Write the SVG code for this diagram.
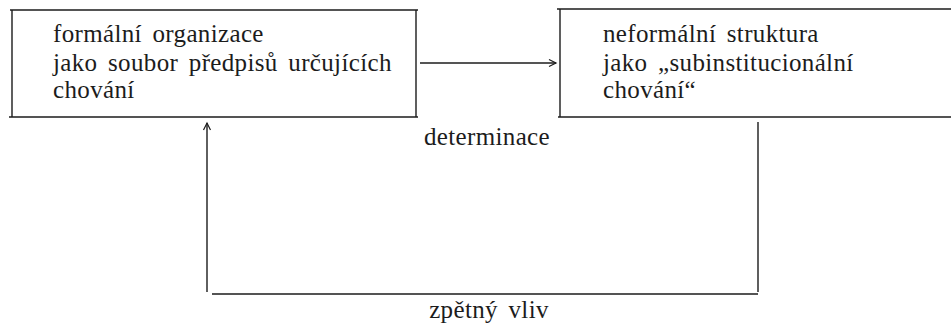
<svg xmlns="http://www.w3.org/2000/svg" width="951" height="326" viewBox="0 0 951 326">
<defs>
<style>
.t{font-size:25px;letter-spacing:0.35px;word-spacing:4px;fill:#1c1c1c}
.ln{stroke:#1c1c1c;stroke-width:1.4;fill:none}
</style>
<marker id="ah" markerWidth="10" markerHeight="10" refX="8" refY="5" orient="auto" markerUnits="userSpaceOnUse">
<path d="M1,1.5 L8,5 L1,8.5" fill="none" stroke="#1c1c1c" stroke-width="1.2"/>
</marker>
</defs>
<rect width="951" height="326" fill="#fff"/>
<g font-family="'Liberation Serif', 'DejaVu Serif', 'Times New Roman', serif">
<g id="node-formal">
<path class="ln" d="M10,10 H418 M12,10 V117 M416,10 V117 M9,117 H418"/>
<text class="t" x="53" y="42">formální organizace</text>
<text class="t" x="53" y="71">jako soubor předpisů určujících</text>
<text class="t" x="53" y="98">chování</text>
</g>
<g id="node-neformal">
<path class="ln" d="M557,9 H951 M560,9 V117 M558,117 H951"/>
<text class="t" x="603" y="42">neformální struktura</text>
<text class="t" x="603" y="71">jako „subinstitucionální</text>
<text class="t" x="603" y="98">chování“</text>
</g>
<g id="connectors">
<line class="ln" x1="420" y1="63" x2="556" y2="63" marker-end="url(#ah)"/>
<path class="ln" d="M758,122 V292 M758,294 H212"/>
<line class="ln" x1="207" y1="292" x2="207" y2="123" marker-end="url(#ah)"/>
<text class="t" x="487" y="145" text-anchor="middle">determinace</text>
<text class="t" x="489" y="318" text-anchor="middle">zpětný vliv</text>
</g>
</g>
</svg>
